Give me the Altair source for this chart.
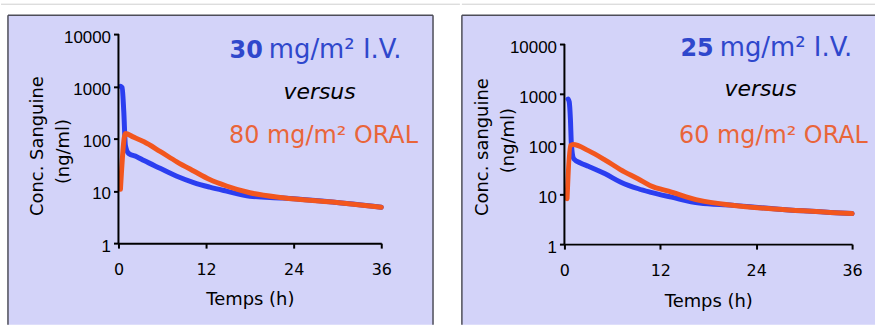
import altair as alt
import pandas as pd

# ---------------- data ----------------
# Left panel: 30 mg/m2 I.V. versus 80 mg/m2 ORAL
left_iv_t = [0.3, 0.5, 0.73, 0.95, 1.4, 2.5, 3.5, 5.7, 8, 10.3, 12.5, 14.8, 18, 22.5, 29.3, 36]
left_iv_c = [1000, 950, 330, 74, 52, 45, 38, 27, 19, 14.4, 11.8, 9.9, 7.9, 7.3, 6.1, 4.85]
left_or_t = [0.27, 0.95, 2, 3.5, 5.7, 8, 10.3, 12.5, 14.8, 18, 22.5, 29.3, 36]
left_or_c = [10.7, 125, 108, 87, 57, 36, 24, 16.5, 12.4, 9.2, 7.4, 6.1, 4.85]

# Right panel: 25 mg/m2 I.V. versus 60 mg/m2 ORAL
right_iv_t = [0.46, 0.6, 0.75, 0.87, 1.16, 2, 3.0, 5.1, 7, 9.25, 10.7, 13.4, 16.9, 21, 27.3, 36]
right_iv_c = [795, 700, 316, 100, 51, 42, 36, 25.5, 17.5, 12.8, 11, 8.7, 6.6, 6.0, 4.9, 4.08]
right_or_t = [0.33, 0.75, 1.1, 3.0, 5.1, 7, 9.25, 10.7, 13.4, 16.9, 21, 27.3, 36]
right_or_c = [8.1, 93, 98, 74, 48, 31, 20, 14.9, 11, 7.5, 6.0, 4.9, 4.08]

x_ticks = [0, 12, 24, 36]
y_ticks = [1, 10, 100, 1000, 10000]

BLUE = "#2b3ef0"
ORANGE = "#f2561e"
BLUE_TXT = "#2f47cc"
ORANGE_TXT = "#e9653a"
BG = "#d3d3f9"
BORDER = "#4d4d58"
FONT = "DejaVu Sans"

dummy = pd.DataFrame({"d": [0]})


def panel(iv_t, iv_c, or_t, or_c, w, h, ymax, ytitle, dose_iv, dose_or, lay):
    iv = pd.DataFrame({"t": iv_t, "c": iv_c})
    ora = pd.DataFrame({"t": or_t, "c": or_c})

    xenc = alt.X(
        "t:Q",
        scale=alt.Scale(domain=[0, 36], nice=False, zero=False),
        axis=alt.Axis(
            values=x_ticks, title="Temps (h)", grid=False, zindex=1,
            domainColor="black", domainWidth=2, tickColor="black", tickWidth=2, tickSize=5,
            labelFont=FONT, labelFontSize=16, labelColor="black", labelBaseline="alphabetic",
            labelPadding=27, labelFlush=False,
            titleFont=FONT, titleFontSize=18, titleFontWeight="normal", titleColor="black",
            titleX=w / 2, titleY=lay["xty"], titleAlign="center", titleBaseline="alphabetic",
        ),
    )
    yenc = alt.Y(
        "c:Q",
        scale=alt.Scale(type="log", domain=[1, ymax], nice=False),
        axis=alt.Axis(
            values=y_ticks, format="d", title=ytitle, grid=False, zindex=1,
            domain=False, tickColor="black", tickWidth=2, tickSize=5,
            labelFont="Liberation Sans", labelFontSize=17, labelColor="black",
            labelPadding=3, labelOffset=3, labelOverlap=False, labelFlush=False,
            titleFont=FONT, titleFontSize=18, titleFontWeight="normal", titleColor="black",
            titleX=lay["ytx"], titleY=lay["yty"], titleAngle=270,
            titleAlign="center", titleBaseline="middle",
        ),
    )

    L, R, T, B = lay["box"]
    bg = alt.Chart(dummy).mark_rect(color=BG).encode(
        x=alt.value(L), x2=alt.value(R), y=alt.value(T), y2=alt.value(B))
    edges = [
        alt.Chart(dummy).mark_rule(color=BORDER, strokeWidth=1.5).encode(
            x=alt.value(L), x2=alt.value(R), y=alt.value(T), y2=alt.value(T)),
        alt.Chart(dummy).mark_rule(color=BORDER, strokeWidth=1.5).encode(
            x=alt.value(L), x2=alt.value(L), y=alt.value(T), y2=alt.value(B)),
    ]
    if lay.get("right_edge", True):
        edges.append(alt.Chart(dummy).mark_rule(color=BORDER, strokeWidth=1.5).encode(
            x=alt.value(R), x2=alt.value(R), y=alt.value(T), y2=alt.value(B)))
    gl, gr, gy = lay["topline"]
    topline = alt.Chart(dummy).mark_rule(color="#cfcfcf", strokeWidth=1).encode(
        x=alt.value(gl), x2=alt.value(gr), y=alt.value(gy), y2=alt.value(gy))

    # y-axis line drawn from 1 to 10000 through the y scale
    yline = alt.Chart(dummy).mark_rule(color="black", strokeWidth=2).encode(
        x=alt.value(0), y=alt.datum(y_ticks[-1]), y2=alt.datum(y_ticks[0]))

    line_iv = alt.Chart(iv).mark_line(
        color=BLUE, strokeWidth=5, interpolate="monotone", strokeCap="round", strokeJoin="round"
    ).encode(x=xenc, y=yenc)
    line_or = alt.Chart(ora).mark_line(
        color=ORANGE, strokeWidth=5, interpolate="monotone", strokeCap="round", strokeJoin="round"
    ).encode(x="t:Q", y="c:Q")

    ngml = alt.Chart(dummy).mark_text(
        text="(ng/ml)", font=FONT, fontSize=18, color="black", angle=270,
        align="center", baseline="middle",
    ).encode(x=alt.value(lay["ng"][0]), y=alt.value(lay["ng"][1]))

    sx, sy = lay["l1"]
    t1a = alt.Chart(dummy).mark_text(
        text=dose_iv[0], font=FONT, fontSize=24, fontWeight="bold", color=BLUE_TXT,
        align="right", baseline="alphabetic").encode(x=alt.value(sx), y=alt.value(sy))
    t1b = alt.Chart(dummy).mark_text(
        text=dose_iv[1], font=FONT, fontSize=26, color=BLUE_TXT,
        align="left", baseline="alphabetic").encode(x=alt.value(sx + 6), y=alt.value(sy))
    vx, vy = lay["vs"]
    t2 = alt.Chart(dummy).mark_text(
        text="versus", font=FONT, fontSize=22, fontStyle="italic", color="black",
        align="center", baseline="alphabetic").encode(x=alt.value(vx), y=alt.value(vy))
    ox, oy = lay["l3"]
    t3 = alt.Chart(dummy).mark_text(
        text=dose_or, font=FONT, fontSize=24, color=ORANGE_TXT,
        align="center", baseline="alphabetic").encode(x=alt.value(ox), y=alt.value(oy))

    return alt.layer(
        bg, *edges, topline, line_iv, line_or, yline, ngml, t1a, t1b, t2, t3
    ).properties(width=w, height=h)


left = panel(
    left_iv_t, left_iv_c, left_or_t, left_or_c, 264, 210, 10000,
    "Conc. Sanguine", ("30", "mg/m² I.V."), "80 mg/m² ORAL",
    dict(box=(-111, 316, -19, 292), topline=(-118, 343, -30),
         ytx=-81, yty=112, xty=62, ng=(-55, 118),
         l1=(145, 24), vs=(202, 65), l3=(206, 109)),
)
right = panel(
    right_iv_t, right_iv_c, right_or_t, right_or_c, 289, 211, 15810,
    "Conc. sanguine", ("25", "mg/m² I.V."), "60 mg/m² ORAL",
    dict(box=(-103, 312, -19, 292), topline=(-103, 312, -30), right_edge=False,
         ytx=-82, yty=113, xty=63, ng=(-56, 107),
         l1=(150, 22), vs=(197, 62), l3=(210, 109)),
)

chart = alt.hconcat(left, right, spacing=0).properties(
    padding={"left": 0, "right": 0, "top": 2.5, "bottom": 0},
    background="white",
).configure_view(stroke=None)

chart.save("out.html", embed_options={"renderer": "svg", "actions": False})
